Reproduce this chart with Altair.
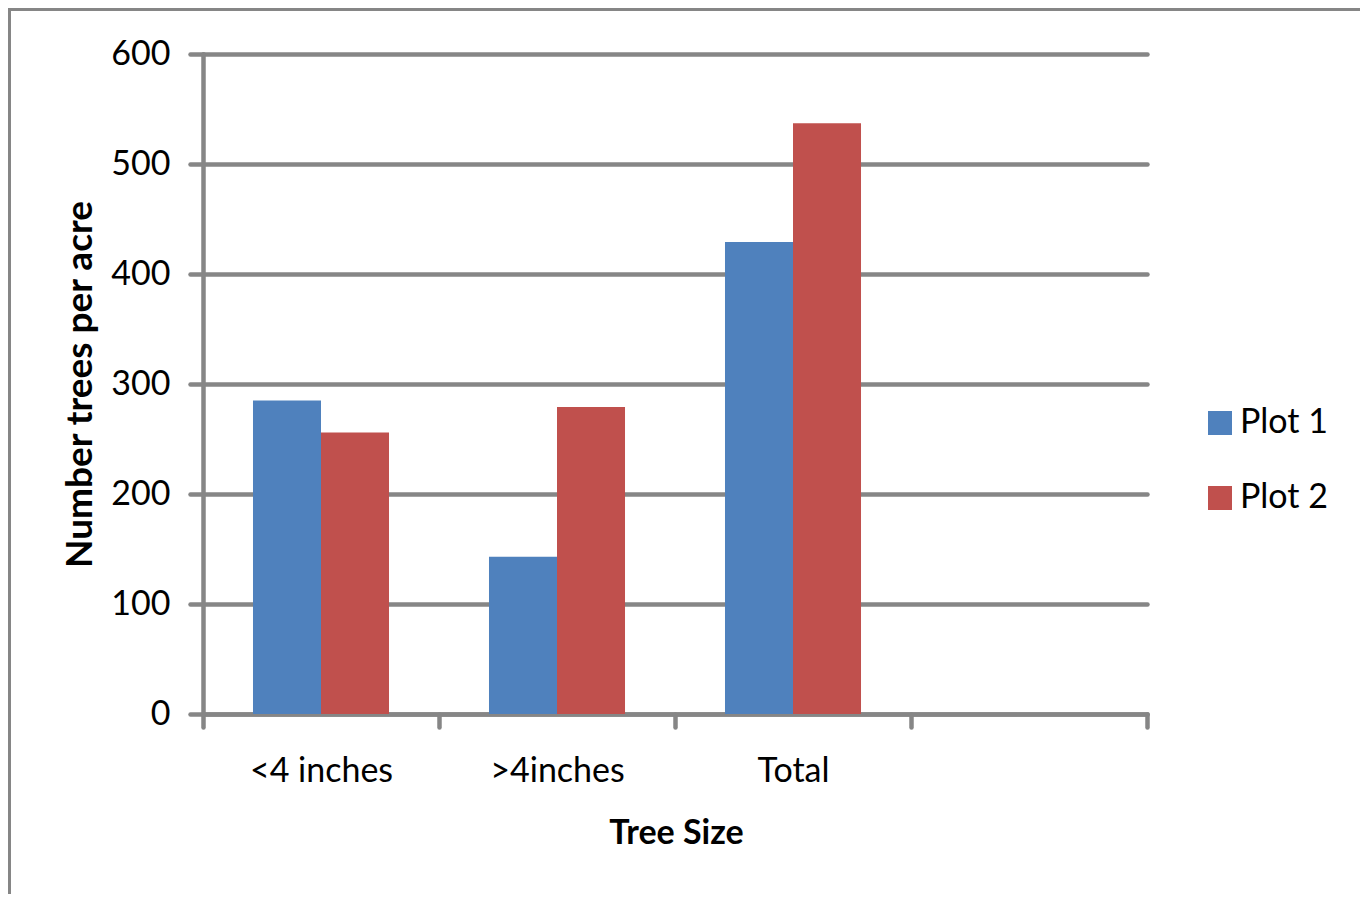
import altair as alt
import pandas as pd

categories = ["<4 inches", ">4inches", "Total"]
domain_slots = ["<4 inches", ">4inches", "Total", " "]
series_names = ["Plot 1", "Plot 2"]
plot1 = [285, 143, 429]
plot2 = [256, 279, 537]
y_ticks = [0, 100, 200, 300, 400, 500, 600]
colors = ["#4F81BD", "#C0504D"]

rows = []
for c, a, b in zip(categories, plot1, plot2):
    rows.append({"size": c, "series": series_names[0], "value": a})
    rows.append({"size": c, "series": series_names[1], "value": b})
df = pd.DataFrame(rows)

GRAY = "#868686"
FONT = "Lato"

bars = alt.Chart(df).mark_bar(strokeWidth=0).encode(
    x=alt.X(
        "size:N",
        sort=domain_slots,
        scale=alt.Scale(domain=domain_slots, paddingInner=0, paddingOuter=0),
        axis=alt.Axis(
            title="Tree Size",
            labelAngle=0,
            tickBand="extent",
            grid=False,
            ticks=True,
            tickSize=13,
            tickWidth=4.5,
            tickColor=GRAY,
            tickCap="round",
            domainColor=GRAY,
            domainWidth=4.5,
            domainCap="round",
            labelPadding=27,
            labelFontSize=34,
            titleFontSize=34,
            titleFontWeight="bold",
            titleX=473,
            titleY=119,
            titleBaseline="middle",
        ),
    ),
    xOffset=alt.XOffset(
        "series:N",
        sort=series_names,
        scale=alt.Scale(paddingInner=0, paddingOuter=0.735),
    ),
    y=alt.Y(
        "value:Q",
        scale=alt.Scale(domain=[0, 600], nice=False),
        axis=alt.Axis(
            title="Number trees per acre",
            values=y_ticks,
            grid=True,
            gridColor=GRAY,
            gridWidth=4.5,
            gridCap="round",
            tickSize=13,
            tickWidth=4.5,
            tickColor=GRAY,
            tickCap="round",
            domainColor=GRAY,
            domainWidth=4.5,
            domainCap="round",
            labelPadding=20,
            labelFontSize=34,
            titleFontSize=37,
            titleFontWeight="bold",
            titleX=-123,
            titleBaseline="middle",
        ),
    ),
    color=alt.Color(
        "series:N",
        scale=alt.Scale(domain=series_names, range=colors),
        legend=alt.Legend(
            orient="none",
            legendX=1000,
            legendY=352,
            title=None,
            symbolType="square",
            symbolSize=576,
            symbolStrokeWidth=0,
            labelFontSize=34,
            labelOffset=3,
            rowPadding=41,
        ),
    ),
)

frame = alt.Chart(alt.Data(values=[{}])).mark_rect(
    fill="transparent", stroke=GRAY, strokeWidth=3
).encode(
    x=alt.value(-193.5),
    x2=alt.value(1160),
    y=alt.value(-44.5),
    y2=alt.value(900),
)

chart = alt.layer(frame, bars).properties(
    width=944,
    height=660,
    autosize=alt.AutoSizeParams(type="none"),
    padding={"left": 195, "top": 46, "right": 213, "bottom": 180},
).configure_view(stroke=None).configure_axis(
    labelFont=FONT, titleFont=FONT, labelColor="black", titleColor="black"
).configure_legend(
    labelFont=FONT, labelColor="black"
)

chart.save("out.html", embed_options={"renderer": "svg", "actions": False})
